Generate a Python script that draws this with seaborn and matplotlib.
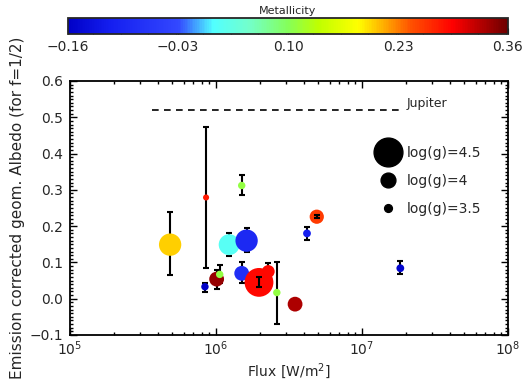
import numpy as np
import pandas as pd
import matplotlib
matplotlib.use("Agg")
import matplotlib.pyplot as plt
import seaborn as sns
from matplotlib.colors import LinearSegmentedColormap, Normalize
from matplotlib.cm import ScalarMappable
from matplotlib.lines import Line2D
from matplotlib.ticker import MultipleLocator, LogLocator, NullFormatter, FuncFormatter

# planets: flux, albedo, errors, metallicity, log(g)
flux = [4.85e5, 8.55e5, 1.23e6, 1.62e6, 1.50e6, 8.4e5, 1.01e6, 1.06e6,
        1.50e6, 2.28e6, 1.97e6, 2.61e6, 3.48e6, 4.9e6, 4.2e6, 1.83e7]
albedo = [0.149, 0.279, 0.149, 0.160, 0.312, 0.033, 0.054, 0.067,
          0.070, 0.075, 0.045, 0.017, -0.015, 0.226, 0.180, 0.084]
err_lo = [0.085, 0.195, 0.030, 0.032, 0.027, 0.014, 0.028, 0.025,
          0.028, 0.023, 0.014, 0.086, 0.010, 0.004, 0.017, 0.016]
err_hi = [0.089, 0.194, 0.031, 0.034, 0.029, 0.009, 0.026, 0.025,
          0.031, 0.023, 0.014, 0.084, 0.010, 0.004, 0.018, 0.019]
metallicity = [0.20, 0.28, 0.02, -0.09, 0.11, -0.16, 0.34, 0.11,
               -0.08, 0.29, 0.29, 0.11, 0.33, 0.26, -0.11, -0.15]
log_g = [4.31, 3.30, 4.26, 4.31, 3.46, 3.46, 4.00, 3.46,
         4.00, 3.89, 4.50, 3.46, 4.00, 3.97, 3.50, 3.50]
# error bars that sit inside their marker are drawn on top
err_on_top = [10, 13]

jupiter_albedo = 0.521
jupiter_flux = [3.65e5, 1.95e7]

met_ticks = [-0.16, -0.03, 0.10, 0.23, 0.36]
legend_logg = [4.5, 4.0, 3.5]

df = pd.DataFrame({"flux": flux, "albedo": albedo, "met": metallicity, "logg": log_g})

def diam_pt(g):
    # marker radius doubles every 0.5 dex in log(g)
    r_px = 3.5 * 2 ** ((np.asarray(g) - 3.5) / 0.5) + 0.4
    return 2 * r_px * 0.72

def minus(v, pos=None, fmt="{:.1f}"):
    return fmt.format(v).replace("-", "\u2212")

cmap = LinearSegmentedColormap.from_list("metal", [
    (0.0, (0.0, 0.0, 0.78)),
    (0.095, (0.08, 0.12, 0.94)),
    (0.25, (0.2, 0.28, 1.0)),
    (0.33, (0.32, 1.0, 1.0)),
    (0.41, (0.45, 1.0, 0.8)),
    (0.50, (0.52, 1.0, 0.35)),
    (0.57, (0.75, 1.0, 0.0)),
    (0.66, (1.0, 1.0, 0.0)),
    (0.72, (1.0, 0.67, 0.0)),
    (0.78, (1.0, 0.32, 0.0)),
    (0.875, (1.0, 0.0, 0.0)),
    (1.0, (0.43, 0.0, 0.0)),
])
norm = Normalize(vmin=-0.16, vmax=0.36)

sns.set_style("ticks")
plt.rcParams["font.family"] = ["DejaVu Sans"]
plt.rcParams["mathtext.fontset"] = "dejavusans"

fig = plt.figure(figsize=(5.25, 3.81), dpi=100)
ax = fig.add_axes([70 / 525, 46 / 381, 438 / 525, 254 / 381])

yerr = np.array([err_lo, err_hi])
ax.errorbar(flux, albedo, yerr=yerr, fmt="none", ecolor="black",
            elinewidth=1.5, capsize=2.5, capthick=1.5, zorder=1)

sns.scatterplot(data=df, x="flux", y="albedo", hue="met", palette=cmap,
                hue_norm=norm, s=diam_pt(df["logg"]) ** 2, linewidth=0,
                legend=False, ax=ax, zorder=2)

top = df.iloc[err_on_top]
ax.errorbar(top["flux"], top["albedo"], yerr=yerr[:, err_on_top], fmt="none",
            ecolor="black", elinewidth=1.5, capsize=2.5, capthick=1.5, zorder=3)

# Jupiter reference
ax.plot(jupiter_flux, [jupiter_albedo] * 2, color="black", lw=1.2,
        linestyle=(0, (4, 3.2)))
ax.text(2.02e7, jupiter_albedo + 0.008, "Jupiter", fontsize=9, va="baseline")

ax.set_xscale("log")
ax.set_xlim(1e5, 1e8)
ax.set_ylim(-0.1, 0.6)
ax.yaxis.set_major_locator(MultipleLocator(0.1))
ax.yaxis.set_minor_locator(MultipleLocator(0.01))
ax.yaxis.set_major_formatter(FuncFormatter(minus))
ax.xaxis.set_major_locator(LogLocator(base=10, numticks=10))
ax.xaxis.set_minor_locator(LogLocator(base=10, subs=np.arange(2, 10), numticks=20))
ax.xaxis.set_minor_formatter(NullFormatter())
ax.tick_params(which="both", direction="in", top=True, right=True,
               labelsize=10, width=1.0, color="black")
ax.tick_params(which="major", length=5)
ax.tick_params(which="minor", length=2.5)
ax.tick_params(axis="y", which="major", pad=5)
for sp in ax.spines.values():
    sp.set_linewidth(1.3)
    sp.set_color("black")
ax.set_xlabel("Flux [W/m$^2$]", fontsize=10, labelpad=2)
ax.set_ylabel("Emission corrected geom. Albedo (for f=1/2)", fontsize=11, labelpad=3)

handles = [Line2D([], [], marker="o", linestyle="", color="black",
                  markersize=diam_pt(g)) for g in legend_logg]
labels = [f"log(g)={g:g}" for g in legend_logg]
ax.legend(handles, labels, loc="upper left", bbox_to_anchor=(0.703, 0.745),
          frameon=False, fontsize=10, handlelength=1.5, handletextpad=0.6,
          labelspacing=1.0, borderpad=0, borderaxespad=0)

# colorbar
cax = fig.add_axes([68 / 525, 1 - 34 / 381, 440 / 525, 16 / 381])
cb = fig.colorbar(ScalarMappable(norm=norm, cmap=cmap), cax=cax,
                  orientation="horizontal")
cb.set_ticks(met_ticks)
cb.set_ticklabels([minus(t, fmt="{:.2f}") for t in met_ticks])
cb.ax.xaxis.set_minor_locator(MultipleLocator(0.0325))
cb.ax.tick_params(which="both", direction="in", labelsize=10, color="black", pad=4)
cb.ax.tick_params(which="major", length=4)
cb.ax.tick_params(which="minor", length=2)
cb.outline.set_linewidth(1.3)
cb.ax.set_title("Metallicity", fontsize=8, pad=3)

fig.savefig("out.png", dpi=100)
